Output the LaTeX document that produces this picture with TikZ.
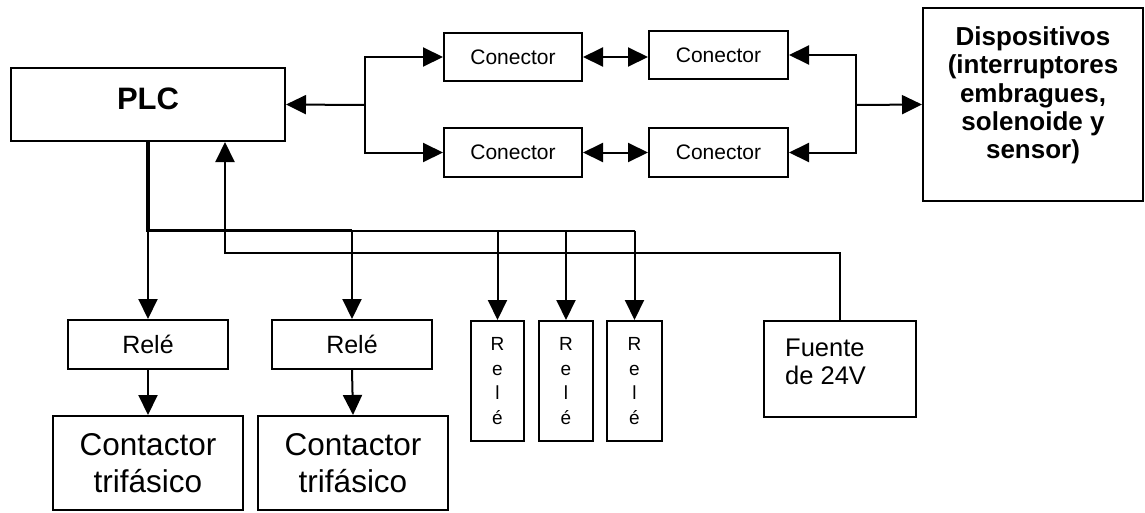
\documentclass[tikz,border=0pt]{standalone}
\usepackage{fontspec}
\setmainfont{Liberation Sans}
\usetikzlibrary{arrows.meta}

\begin{document}
\begin{tikzpicture}[x=1pt,y=-1pt,
  box/.style={draw, line width=2pt, inner sep=0pt, align=center},
  wire/.style={line width=2pt},
  buswire/.style={line width=3.2pt},
  arr/.style={wire, -{Triangle[length=20pt,width=19pt]}},
  darr/.style={wire, {Triangle[length=20pt,width=19pt]}-{Triangle[length=20pt,width=19pt]}},
  plcfont/.style={font=\fontsize{31}{36}\bfseries\selectfont},
  devfont/.style={font=\fontsize{26}{28.3}\bfseries\selectfont},
  confont/.style={font=\fontsize{21}{25}\selectfont},
  relfont/.style={font=\fontsize{25}{29}\selectfont},
  vrelfont/.style={font=\fontsize{19}{24.5}\selectfont},
  srcfont/.style={font=\fontsize{25.5}{28}\selectfont},
  ctcfont/.style={font=\fontsize{31.5}{37}\selectfont},
]
\useasboundingbox (0,0) rectangle (1145,512);
\fill[white] (0,0) rectangle (1145,512);

% main controller
\node[box, plcfont, minimum width=274pt, minimum height=73pt, text depth=11pt] (plc) at (148,104.5) {PLC};

% connector chains
\node[box, confont, minimum width=138pt, minimum height=48pt] (c1) at (513,57) {Conector};
\node[box, confont, minimum width=139pt, minimum height=48pt] (c2) at (718.5,55) {Conector};
\node[box, confont, minimum width=138pt, minimum height=49pt] (c3) at (513,152.5) {Conector};
\node[box, confont, minimum width=139pt, minimum height=49pt] (c4) at (718.5,152.5) {Conector};

% field devices
\node[box, minimum width=220pt, minimum height=193pt] (disp) at (1033,104.5) {};
\node[devfont, align=center, inner sep=0pt] (disptext) at (1033,95.5)
  {Dispositivos\\(interruptores\\embragues,\\solenoide y\\sensor)};

% relays
\node[box, relfont, minimum width=160pt, minimum height=49pt] (rele1) at (148,344.5) {Relé};
\node[box, relfont, minimum width=160pt, minimum height=49pt] (rele2) at (352,344.5) {Relé};
\node[box, vrelfont, minimum width=53pt, minimum height=120pt] (rv1) at (497.5,381) {R\\e\\l\\é};
\node[box, vrelfont, minimum width=54pt, minimum height=120pt] (rv2) at (566,381) {R\\e\\l\\é};
\node[box, vrelfont, minimum width=55pt, minimum height=120pt] (rv3) at (634.5,381) {R\\e\\l\\é};

% power supply
\node[box, minimum width=152pt, minimum height=96pt] (fuente) at (840,369) {};
\node[srcfont, align=left, anchor=west, inner sep=0pt] (fuentetext) at (785,361.5) {Fuente\\de 24V};

% contactors
\node[box, ctcfont, minimum width=190pt, minimum height=94pt] (cont1) at (148,463) {Contactor\\trifásico};
\node[box, ctcfont, minimum width=190pt, minimum height=94pt] (cont2) at (353,463) {Contactor\\trifásico};

% junction points
\coordinate (jl) at (365,105);
\coordinate (jr) at (856,105);
\coordinate (busL) at (148,230.5);
\coordinate (busM) at (352,230.5);
\coordinate (busR) at (634.5,230.5);
\coordinate (fb) at (225,253);

% PLC <-> connectors <-> devices
\draw[arr] (jl) -- (plc.east);
\draw[arr] (jl) |- (c1.west);
\draw[arr] (jl) |- (c3.west);
\draw[darr] (c1.east) -- (c1.east -| c2.west);
\draw[darr] (c3.east) -- (c3.east -| c4.west);
\draw[arr] (jr) |- (c2.east);
\draw[arr] (jr) |- (c4.east);
\draw[arr] (jr) -- (disp.west);

% output bus to relays
\draw[wire] (busM) -- (busR);
\draw[buswire, line join=miter] (plc.south) -- (busL) -- (busM);
\draw[arr] (busL) -- (rele1.north);
\draw[arr] (busM) -- (rele2.north);
\draw[arr] (rv1.north |- busL) -- (rv1.north);
\draw[arr] (rv2.north |- busL) -- (rv2.north);
\draw[arr] (busR) -- (rv3.north);

% supply feedback to PLC
\draw[arr] (fuente.north) |- (fb) -- (fb |- plc.south);

% relays to contactors
\draw[arr] (rele1.south) -- (cont1.north);
\draw[arr] (rele2.south) -- (cont2.north);
\end{tikzpicture}
\end{document}
